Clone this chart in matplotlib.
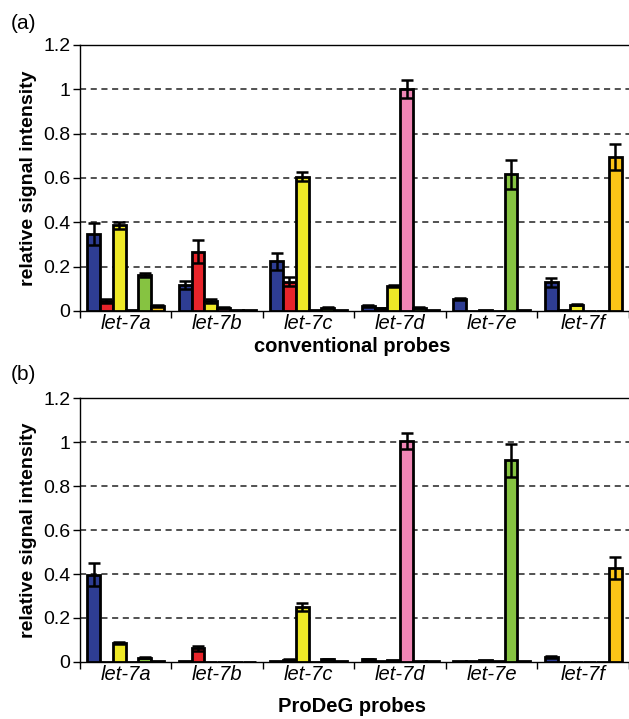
import numpy as np
import matplotlib.pyplot as plt

plt.rcParams['font.family'] = ['Liberation Sans', 'DejaVu Sans']

# ============ data ============
groups = ['let-7a', 'let-7b', 'let-7c', 'let-7d', 'let-7e', 'let-7f']
series_colors = ['#2e3d93', '#e8242a', '#eee827', '#f086b6', '#86c341', '#fbc417']

# panel (a): conventional probes, rows = series (blue, red, yellow, pink, green, orange)
conv_vals = [
    [0.348, 0.117, 0.224, 0.023, 0.053, 0.129],
    [0.045, 0.268, 0.132, 0.012, 0.002, 0.003],
    [0.386, 0.045, 0.605, 0.114, 0.005, 0.029],
    [0.003, 0.015, 0.003, 1.000, 0.002, 0.002],
    [0.162, 0.005, 0.015, 0.015, 0.616, 0.002],
    [0.023, 0.003, 0.005, 0.005, 0.003, 0.695],
]
conv_err = [
    [0.050, 0.020, 0.038, 0.004, 0.005, 0.020],
    [0.010, 0.050, 0.020, 0.003, 0.000, 0.000],
    [0.017, 0.008, 0.020, 0.005, 0.000, 0.004],
    [0.000, 0.003, 0.000, 0.040, 0.000, 0.000],
    [0.010, 0.000, 0.003, 0.003, 0.064, 0.000],
    [0.003, 0.000, 0.000, 0.000, 0.000, 0.058],
]

# panel (b): ProDeG probes
prodeg_vals = [
    [0.397, 0.003, 0.003, 0.012, 0.005, 0.023],
    [0.002, 0.062, 0.010, 0.005, 0.006, 0.002],
    [0.088, 0.002, 0.248, 0.008, 0.008, 0.002],
    [0.002, 0.002, 0.002, 1.004, 0.005, 0.002],
    [0.020, 0.002, 0.013, 0.005, 0.918, 0.002],
    [0.005, 0.002, 0.005, 0.005, 0.003, 0.428],
]
prodeg_err = [
    [0.053, 0.000, 0.000, 0.003, 0.000, 0.004],
    [0.000, 0.010, 0.002, 0.000, 0.000, 0.000],
    [0.005, 0.000, 0.018, 0.000, 0.000, 0.000],
    [0.000, 0.000, 0.000, 0.035, 0.000, 0.000],
    [0.004, 0.000, 0.002, 0.000, 0.075, 0.000],
    [0.000, 0.000, 0.000, 0.000, 0.000, 0.050],
]

y_ticks = [0, 0.2, 0.4, 0.6, 0.8, 1, 1.2]
y_tick_labels = ['0', '0.2', '0.4', '0.6', '0.8', '1', '1.2']


def draw_panel(ax, vals, errs, xlabel, xlabel_y):
    n = len(vals)
    w = 0.14
    x = np.arange(len(groups))
    for i in range(n):
        pos = x + (i - (n - 1) / 2) * w
        ax.bar(pos, vals[i], w, color=series_colors[i], edgecolor='black',
               linewidth=2.0, zorder=3)
        e = np.array(errs[i])
        mask = e > 0
        ax.errorbar(pos[mask], np.array(vals[i])[mask], yerr=e[mask], fmt='none',
                    ecolor='black', elinewidth=1.8, capsize=4, capthick=1.8, zorder=4)
    for yv in y_ticks[1:-1]:
        ax.axhline(yv, color='#222222', linestyle=(0, (4, 3)), linewidth=1.1, zorder=1)
    ax.set_ylim(0, 1.2)
    ax.set_xlim(-0.5, len(groups) - 0.5)
    ax.set_yticks(y_ticks)
    ax.set_yticklabels(y_tick_labels, fontsize=14)
    ax.set_xticks(np.arange(len(groups) + 1) - 0.5)
    ax.set_xticklabels([])
    ax.set_xticks(np.arange(len(groups)), minor=True)
    ax.set_xticklabels(groups, minor=True, fontsize=14.5, style='italic')
    ax.tick_params(axis='x', which='minor', length=0, pad=2)
    ax.tick_params(axis='x', which='major', length=5, width=1, direction='out')
    ax.tick_params(axis='y', length=5, width=1, direction='out', pad=2)
    ax.spines['right'].set_visible(False)
    for s in ['left', 'top', 'bottom']:
        ax.spines[s].set_linewidth(1.0)
    ax.set_ylabel('relative signal intensity', fontsize=14, fontweight='bold', labelpad=4)
    ax.set_xlabel(xlabel, fontsize=14.5, fontweight='bold', va='center')
    ax.xaxis.set_label_coords(0.5 - 0.004, xlabel_y)


fig = plt.figure(figsize=(6.29, 7.19), dpi=100)
ax_a = fig.add_axes([0.127, 0.5675, 0.873, 0.37])
ax_b = fig.add_axes([0.127, 0.0793, 0.873, 0.3671])

draw_panel(ax_a, conv_vals, conv_err, 'conventional probes', -0.135)
draw_panel(ax_b, prodeg_vals, prodeg_err, 'ProDeG probes', -0.170)

fig.text(0.017, 0.981, '(a)', fontsize=15, va='top', ha='left')
fig.text(0.017, 0.493, '(b)', fontsize=15, va='top', ha='left')

fig.savefig('out.png', dpi=100)
